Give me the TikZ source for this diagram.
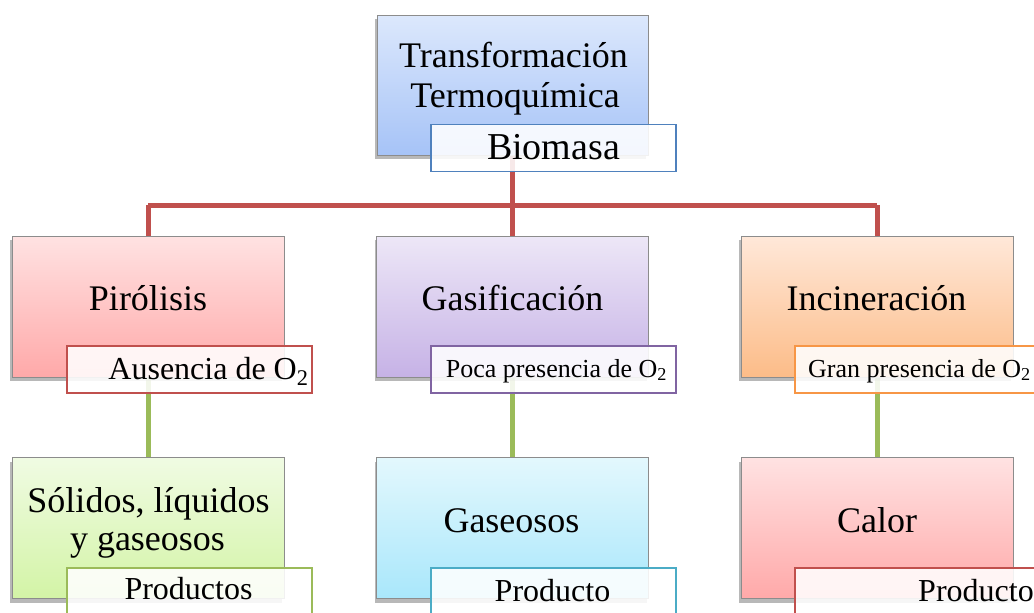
\documentclass[tikz,border=0pt]{standalone}
\usepackage{fontspec}
\setmainfont{Liberation Serif}
\usetikzlibrary{shadows}
\definecolor{redline}{RGB}{192,80,77}
\definecolor{greenline}{RGB}{155,187,89}
\definecolor{boxgray}{RGB}{140,140,140}
\definecolor{bluetag}{RGB}{79,129,189}
\definecolor{purpletag}{RGB}{128,100,162}
\definecolor{orangetag}{RGB}{247,150,70}
\definecolor{aquatag}{RGB}{75,172,198}
\definecolor{blueT}{RGB}{220,232,252}\definecolor{blueB}{RGB}{166,195,247}
\definecolor{redT}{RGB}{255,226,226}\definecolor{redB}{RGB}{255,169,169}
\definecolor{purT}{RGB}{237,231,247}\definecolor{purB}{RGB}{198,178,230}
\definecolor{orT}{RGB}{255,232,217}\definecolor{orB}{RGB}{252,188,136}
\definecolor{grT}{RGB}{240,251,227}\definecolor{grB}{RGB}{211,244,166}
\definecolor{aqT}{RGB}{227,248,253}\definecolor{aqB}{RGB}{169,231,251}
\begin{document}
\begin{tikzpicture}[x=1pt,y=1pt,
  box/.style={rectangle, draw=boxgray, line width=0.8pt, minimum width=272pt, minimum height=141pt, inner sep=0pt,
    drop shadow={shadow xshift=-2pt, shadow yshift=-4pt, opacity=0.28, fill=black}},
  tag/.style={rectangle, fill=white, fill opacity=0.88, line width=1.6pt, minimum width=245pt, minimum height=47pt, inner sep=0pt},
  big/.style={font=\fontsize{36}{40}\selectfont, inner sep=0pt, anchor=base},
  mid/.style={font=\fontsize{32}{36}\selectfont, inner sep=0pt, anchor=base},
  sml/.style={font=\fontsize{26}{30}\selectfont, inner sep=0pt, anchor=base},
  redcon/.style={draw=redline, line width=5pt},
  grecon/.style={draw=greenline, line width=5pt}
]
\useasboundingbox (0,0) rectangle (1034,-613);
\clip (0,0) rectangle (1034,-613);
% connector coordinates
\coordinate (bus) at (0,-205);
% centres of boxes
\coordinate (ctb) at (512.5,-85);
\coordinate (cp) at (148,-306.5);
\coordinate (cg) at (512.5,-306.5);
\coordinate (ci) at (877,-306.5);
\coordinate (cs) at (148,-528);
\coordinate (cgs) at (512.5,-528);
\coordinate (cc) at (877,-528);
% connectors
\draw[redcon] (ctb) -- (ctb |- bus);
\draw[redcon] (cp |- bus) -- (ci |- bus);
\draw[redcon] (cp |- bus) -- (cp);
\draw[redcon] (cg |- bus) -- (cg);
\draw[redcon] (ci |- bus) -- (ci);
\draw[grecon] (cp) -- (cs);
\draw[grecon] (cg) -- (cgs);
\draw[grecon] (ci) -- (cc);
% boxes
\node[box, minimum width=271pt, minimum height=140pt, top color=blueT, bottom color=blueB] (tb) at (ctb) {};
\node[box, top color=redT, bottom color=redB] (p) at (cp) {};
\node[box, top color=purT, bottom color=purB] (g) at (cg) {};
\node[box, top color=orT, bottom color=orB] (i) at (ci) {};
\node[box, top color=grT, bottom color=grB] (s) at (cs) {};
\node[box, top color=aqT, bottom color=aqB] (gs) at (cgs) {};
\node[box, top color=redT, bottom color=redB] (c) at (cc) {};
% tags
\node[tag, draw=bluetag] (tbt) at (553.5,-148) {};
\node[tag, draw=redline] (pt) at (189.5,-369.5) {};
\node[tag, draw=purpletag] (gt) at (553.5,-369.5) {};
\node[tag, draw=orangetag] (it) at (917.5,-369.5) {};
\node[tag, draw=greenline] (st) at (189.5,-591.5) {};
\node[tag, draw=aquatag] (gst) at (553.5,-591.5) {};
\node[tag, draw=redline] (ct) at (917.5,-591.5) {};
% main texts
\node[big] (tbl1) at (513.5,-67) {Transformación};
\node[big] (tbl2) at (515,-107) {Termoquímica};
\node[big] (pl) at (148,-310) {Pirólisis};
\node[big] (gl) at (512.5,-310) {Gasificación};
\node[big] (il) at (876.5,-310) {Incineración};
\node[big] (sl1) at (148.5,-512) {Sólidos, líquidos};
\node[big] (sl2) at (147.5,-550) {y gaseosos};
\node[big] (gsl) at (511.5,-532) {Gaseosos};
\node[big] (cl) at (877,-532) {Calor};
% tag texts
\node[big, font=\fontsize{38}{42}\selectfont] (tbtl) at (553.5,-159) {Biomasa};
\node[mid] (ptl) at (208.5,-379) {Ausencia de O\textsubscript{2}};
\node[sml] (gtl) at (556.5,-377) {Poca presencia de O\textsubscript{2}};
\node[sml, anchor=base west] (itl) at (808,-377) {Gran presencia de O\textsubscript{2}};
\node[mid] (stl) at (188.5,-599) {Productos};
\node[mid] (gstl) at (552.5,-601) {Producto};
\node[mid, anchor=base west] (ctl) at (918,-601) {Producto};
\end{tikzpicture}
\end{document}
